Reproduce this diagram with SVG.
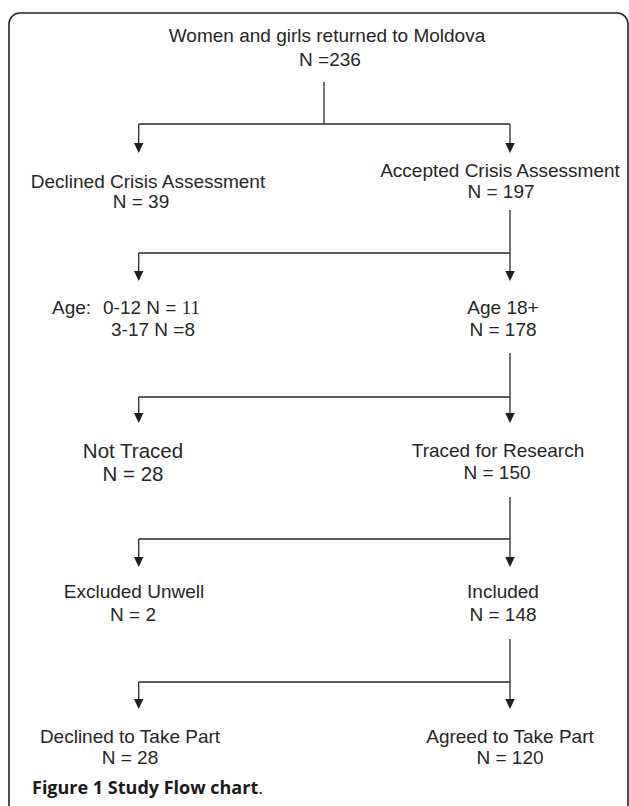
<svg xmlns="http://www.w3.org/2000/svg" width="629" height="806" viewBox="0 0 629 806">
<style>
.t{font-family:"Liberation Sans",Arial,sans-serif;font-size:19px;fill:#262626;text-anchor:middle}
.tb{font-size:20.5px}
.s{text-anchor:start}
.l{stroke:#2a2a2a;stroke-width:1.3;fill:none}
.a{fill:#1f1f1f}
.cap{font-family:"Open Sans","DejaVu Sans",sans-serif;font-weight:bold;font-size:18px;fill:#1a1a1a}
</style>
<rect width="629" height="806" fill="#fff"/>
<path d="M9,806 V24 A11,11 0 0 1 20,13 H617 A11,11 0 0 1 628,24 V806" fill="none" stroke="#222" stroke-width="1.6"/>

<g id="connectors">
<path class="l" d="M324,82 V124 M138.7,124 H510 M138.7,124 V144 M510,124 V144"/>
<path class="a" d="M134,143 H143.4 L138.7,153 Z"/>
<path class="a" d="M505.3,143 H514.7 L510,153 Z"/>

<path class="l" d="M510,210 V272 M138.7,253 H510 M138.7,253 V272"/>
<path class="a" d="M134,271 H143.4 L138.7,281 Z"/>
<path class="a" d="M505.3,271 H514.7 L510,281 Z"/>

<path class="l" d="M510,353 V414 M138.7,397 H510 M138.7,397 V414"/>
<path class="a" d="M134,413 H143.4 L138.7,423 Z"/>
<path class="a" d="M505.3,413 H514.7 L510,423 Z"/>

<path class="l" d="M510,497 V558 M138.7,539 H510 M138.7,539 V558"/>
<path class="a" d="M134,557 H143.4 L138.7,567 Z"/>
<path class="a" d="M505.3,557 H514.7 L510,567 Z"/>

<path class="l" d="M510,639 V700 M138.7,682 H510 M138.7,682 V700"/>
<path class="a" d="M134,699 H143.4 L138.7,709 Z"/>
<path class="a" d="M505.3,699 H514.7 L510,709 Z"/>
</g>

<g id="n0"><text class="t" x="327" y="42">Women and girls returned to Moldova</text><text class="t" x="330" y="66">N =236</text></g>
<g id="n1"><text class="t" x="148" y="188">Declined Crisis Assessment</text><text class="t" x="141" y="208">N = 39</text></g>
<g id="n2"><text class="t" x="500" y="177">Accepted Crisis Assessment</text><text class="t" x="501" y="198">N = 197</text></g>
<g id="n3"><text class="t s" x="52" y="314">Age:<tspan x="103">0-12 N = </tspan><tspan style="font-family:'Liberation Serif',serif">11</tspan></text><text class="t s" x="111" y="336">3-17 N =8</text></g>
<g id="n4"><text class="t" x="503" y="314">Age 18+</text><text class="t" x="503" y="336">N = 178</text></g>
<g id="n5"><text class="t tb" x="133" y="458">Not Traced</text><text class="t tb" x="133" y="481">N = 28</text></g>
<g id="n6"><text class="t" x="498" y="457">Traced for Research</text><text class="t" x="497" y="479">N = 150</text></g>
<g id="n7"><text class="t" x="134" y="598">Excluded Unwell</text><text class="t" x="133" y="621">N = 2</text></g>
<g id="n8"><text class="t" x="503" y="598">Included</text><text class="t" x="503" y="621">N = 148</text></g>
<g id="n9"><text class="t" x="130" y="743">Declined to Take Part</text><text class="t" x="130" y="764">N = 28</text></g>
<g id="n10"><text class="t" x="510" y="743">Agreed to Take Part</text><text class="t" x="510" y="764">N = 120</text></g>
<text class="cap" x="32" y="794">Figure 1 Study Flow chart<tspan style="font-weight:normal">.</tspan></text>
</svg>
